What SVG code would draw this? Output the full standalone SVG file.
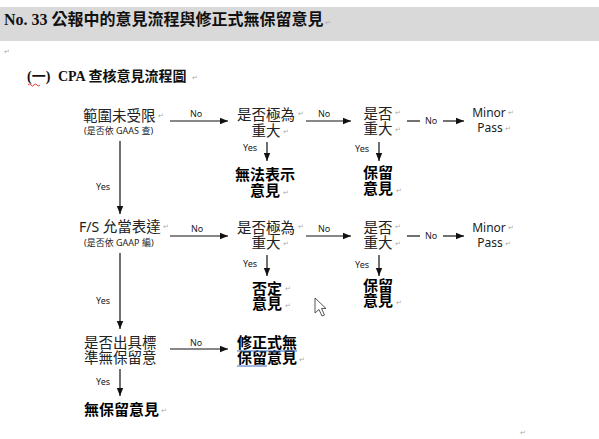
<svg xmlns="http://www.w3.org/2000/svg" width="599" height="439" viewBox="0 0 599 439">
<style>
.cjk{font-family:"Noto Sans CJK TC","Noto Sans",sans-serif;font-size:14.5px;fill:#222}
.b{font-weight:700;fill:#000;font-size:15px}
.sub{font-family:"Noto Sans","Noto Sans CJK TC",sans-serif;font-size:9px;fill:#222}
.lbl{font-family:"Noto Sans","Noto Sans CJK TC",sans-serif;font-size:9px;fill:#222}
.lat{font-family:"Noto Sans","Noto Sans CJK TC",sans-serif;font-size:12px;fill:#222}
.pm{font-family:"DejaVu Sans",sans-serif;font-size:7px;fill:#aaa}
.ln{stroke:#111;stroke-width:1.2;fill:none}
.ar{stroke:#111;stroke-width:1.2;fill:none;marker-end:url(#ah)}
.m{text-anchor:middle}
</style>
<defs>
<marker id="ah" viewBox="0 0 10 10" refX="10" refY="5" markerWidth="8" markerHeight="8" markerUnits="userSpaceOnUse" orient="auto"><path d="M0,1 L10,5 L0,9 z" fill="#111"/></marker>
</defs>
<rect width="599" height="439" fill="#fff"/>
<g id="header">
<rect x="0" y="7" width="599" height="34" fill="#d9d9d9"/>
<text x="4" y="25" style="font-family:'Liberation Serif','Noto Sans CJK TC',serif;font-size:16px;font-weight:700;fill:#111">No. 33 <tspan style="font-family:'Noto Sans CJK TC',sans-serif">公報中的意見流程與修正式無保留意見</tspan></text>
<text x="325" y="25" class="pm">↵</text>
<text x="4" y="54" class="pm">↵</text>
</g>
<g id="title">
<text x="27" y="81" style="font-family:'Liberation Serif','Noto Sans CJK TC',serif;font-size:14px;font-weight:700;fill:#111">(一)<tspan x="58">CPA </tspan><tspan style="font-family:'Noto Sans CJK TC',sans-serif">查核意見流程圖</tspan></text>
<path d="M28,85 q1.5,-2 3,0 t3,0 t3,0 t3,0" stroke="#d22" stroke-width="0.9" fill="none"/>
<text x="192" y="80" class="pm">↵</text>
</g>
<g id="connectors">
<line class="ar" x1="170" y1="121" x2="228" y2="121"/>
<text x="190" y="117" class="lbl">No</text>
<line class="ar" x1="306" y1="121" x2="351" y2="121"/>
<text x="318" y="117" class="lbl">No</text>
<line class="ln" x1="407" y1="121" x2="420" y2="121"/>
<text x="425" y="124" class="lbl">No</text>
<line class="ar" x1="443" y1="121" x2="464" y2="121"/>
<line class="ar" x1="267" y1="142" x2="267" y2="161"/>
<text x="243" y="151" class="lbl">Yes</text>
<line class="ar" x1="379" y1="142" x2="379" y2="161"/>
<text x="355" y="152" class="lbl">Yes</text>
<line class="ar" x1="120" y1="141" x2="120" y2="214"/>
<text x="96" y="190" class="lbl">Yes</text>
<line class="ar" x1="170" y1="236" x2="228" y2="236"/>
<text x="191" y="232" class="lbl">No</text>
<line class="ar" x1="306" y1="236" x2="351" y2="236"/>
<text x="318" y="232" class="lbl">No</text>
<line class="ln" x1="407" y1="236" x2="420" y2="236"/>
<text x="425" y="239" class="lbl">No</text>
<line class="ar" x1="443" y1="236" x2="464" y2="236"/>
<line class="ar" x1="267" y1="255" x2="267" y2="276"/>
<text x="243" y="267" class="lbl">Yes</text>
<line class="ar" x1="379" y1="255" x2="379" y2="276"/>
<text x="355" y="268" class="lbl">Yes</text>
<line class="ar" x1="120" y1="253" x2="120" y2="329"/>
<text x="96" y="304" class="lbl">Yes</text>
<line class="ar" x1="170" y1="349" x2="228" y2="349"/>
<text x="190" y="346" class="lbl">No</text>
<line class="ar" x1="120" y1="369" x2="120" y2="396"/>
<text x="96" y="385" class="lbl">Yes</text>
</g>
<g id="n1">
<text x="83" y="121" class="cjk">範圍未受限</text><text x="158" y="118" class="pm">↵</text>
<text x="84" y="134" class="sub">(是否依 GAAS 查)</text>
</g>
<g id="n2">
<text x="266" y="120" class="cjk m">是否極為</text><text x="298" y="116" class="pm">↵</text>
<text x="266" y="136" class="cjk m">重大</text><text x="283" y="134" class="pm">↵</text>
</g>
<g id="n3">
<text x="378" y="119" class="cjk m">是否</text><text x="395" y="115" class="pm">↵</text>
<text x="378" y="134" class="cjk m">重大</text><text x="395" y="132" class="pm">↵</text>
</g>
<g id="n4">
<text x="489" y="117" class="lat m">Minor</text><text x="508" y="115" class="pm">↵</text>
<text x="490" y="132" class="lat m">Pass</text><text x="505" y="131" class="pm">↵</text>
</g>
<g id="n5">
<text x="265" y="180" class="cjk b m">無法表示</text>
<text x="265" y="196" class="cjk b m">意見</text><text x="283" y="195" class="pm">↵</text>
</g>
<g id="n6">
<text x="378" y="178" class="cjk b m">保留</text>
<text x="378" y="194" class="cjk b m">意見</text><text x="396" y="193" class="pm">↵</text>
</g>
<g id="n7">
<text x="79" y="232" class="cjk"><tspan class="lat" style="font-size:14px">F/S </tspan>允當表達</text><text x="163" y="229" class="pm">↵</text>
<text x="84" y="246" class="sub">(是否依 GAAP 編)</text>
</g>
<g id="n8">
<text x="266" y="233" class="cjk m">是否極為</text><text x="298" y="229" class="pm">↵</text>
<text x="266" y="248" class="cjk m">重大</text><text x="283" y="246" class="pm">↵</text>
</g>
<g id="n9">
<text x="378" y="233" class="cjk m">是否</text><text x="395" y="229" class="pm">↵</text>
<text x="378" y="248" class="cjk m">重大</text><text x="395" y="246" class="pm">↵</text>
</g>
<g id="n10">
<text x="489" y="232" class="lat m">Minor</text><text x="508" y="230" class="pm">↵</text>
<text x="490" y="247" class="lat m">Pass</text><text x="505" y="246" class="pm">↵</text>
</g>
<g id="n11">
<text x="267" y="294" class="cjk b m">否定</text><text x="285" y="291" class="pm">↵</text>
<text x="267" y="309" class="cjk b m">意見</text><text x="285" y="308" class="pm">↵</text>
</g>
<g id="n12">
<text x="378" y="291" class="cjk b m">保留</text>
<text x="378" y="306" class="cjk b m">意見</text><text x="396" y="305" class="pm">↵</text>
</g>
<g id="n13">
<text x="84" y="348" class="cjk">是否出具標</text>
<text x="84" y="363" class="cjk">準無保留意</text>
</g>
<g id="n14">
<text x="237" y="348" class="cjk b">修正式無</text>
<text x="237" y="363" class="cjk b">保留意見</text><text x="299" y="362" class="pm">↵</text>
<line x1="237" y1="351" x2="297" y2="351" stroke="#3b6fc4" stroke-width="1"/>
<line x1="237" y1="366" x2="267" y2="366" stroke="#3b6fc4" stroke-width="1"/>
</g>
<g id="n15">
<text x="84" y="415" class="cjk b">無保留意見</text><text x="161" y="413" class="pm">↵</text>
</g>
<text x="520" y="435" class="pm">↵</text>
<path d="M315,298 L315,313 L319,309.5 L322,316 L324.5,315 L321.5,308.5 L326,308.5 Z" fill="#fff" stroke="#444" stroke-width="0.9"/>
</svg>
